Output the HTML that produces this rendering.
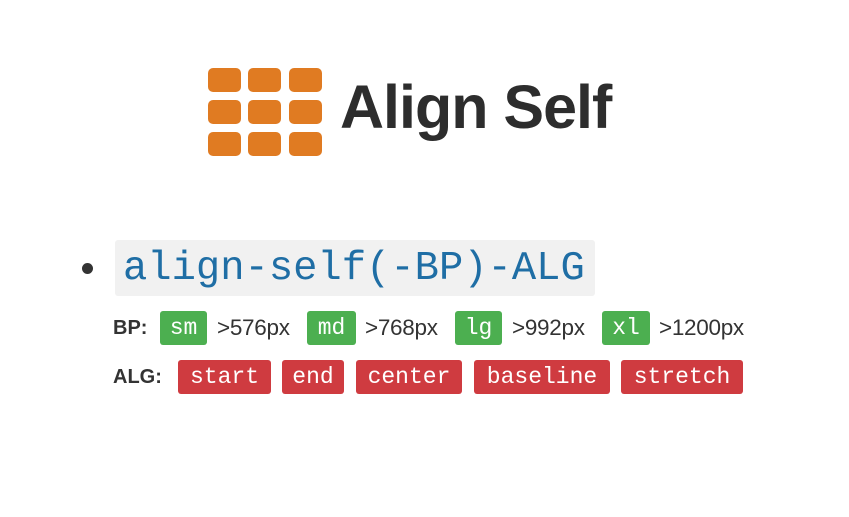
<!DOCTYPE html>
<html><head><style>
body{margin:0;width:849px;height:517px;background:#fff;position:relative;overflow:hidden;font-family:"Liberation Sans",sans-serif}
.sq{position:absolute;width:33px;height:24px;background:#e07b22;border-radius:5px}
.t{position:absolute;white-space:nowrap}
.b{position:absolute;height:34px;border-radius:3px;color:#fff;font-family:"Liberation Mono",monospace;font-size:23px;line-height:34px;text-align:center}
.g{background:#4caf50;top:311px}
.r{background:#cf3b40;top:360px}
.px{position:absolute;top:313px;font-size:22.5px;color:#333;line-height:30px;letter-spacing:-0.3px}
</style></head><body>
<div class="sq" style="left:208px;top:68px"></div><div class="sq" style="left:248px;top:68px"></div><div class="sq" style="left:289px;top:68px"></div>
<div class="sq" style="left:208px;top:100px"></div><div class="sq" style="left:248px;top:100px"></div><div class="sq" style="left:289px;top:100px"></div>
<div class="sq" style="left:208px;top:132px"></div><div class="sq" style="left:248px;top:132px"></div><div class="sq" style="left:289px;top:132px"></div>
<div class="t" style="left:340px;top:72px;font-size:61px;font-weight:bold;color:#2d2d2d;letter-spacing:-1px;line-height:70px">Align Self</div>
<div style="position:absolute;left:82px;top:263px;width:11px;height:11px;border-radius:50%;background:#333"></div>
<div style="position:absolute;left:115px;top:240px;width:480px;height:56px;background:#f1f1f1;border-radius:3px"></div>
<div class="t" style="left:123px;top:244px;font-family:'Liberation Mono',monospace;font-size:40.5px;color:#1f6ea5;line-height:50px">align-self(-BP)-ALG</div>
<div class="t" style="left:113px;top:313px;font-size:20px;font-weight:bold;color:#333;line-height:30px">BP:</div>
<div class="b g" style="left:160px;width:47px">sm</div><div class="px" style="left:217px">&gt;576px</div>
<div class="b g" style="left:307px;width:49px">md</div><div class="px" style="left:365px">&gt;768px</div>
<div class="b g" style="left:455px;width:47px">lg</div><div class="px" style="left:512px">&gt;992px</div>
<div class="b g" style="left:602px;width:48px">xl</div><div class="px" style="left:659px">&gt;1200px</div>
<div class="t" style="left:113px;top:362px;font-size:20px;font-weight:bold;color:#333;line-height:30px">ALG:</div>
<div class="b r" style="left:178px;width:93px">start</div>
<div class="b r" style="left:282px;width:62px">end</div>
<div class="b r" style="left:356px;width:106px">center</div>
<div class="b r" style="left:474px;width:136px">baseline</div>
<div class="b r" style="left:621px;width:122px">stretch</div>
</body></html>
